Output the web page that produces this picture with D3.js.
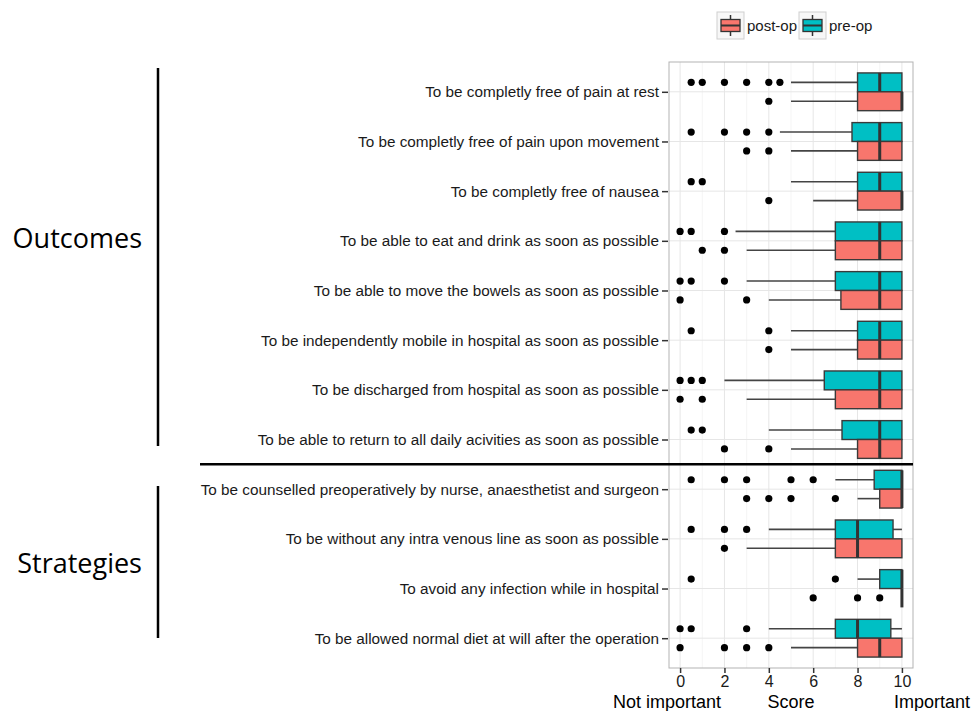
<!DOCTYPE html>
<html>
<head>
<meta charset="utf-8">
<script src="https://cdn.jsdelivr.net/npm/d3@7"></script>
<style>
    body { margin: 0; background: #fff; }
    svg { display: block; }
</style>
</head>
<body>
<div id="chart"></div>
<script>
// Items, top to bottom
const categories = [
    "To be completly free of pain at rest",
    "To be completly free of pain upon movement",
    "To be completly free of nausea",
    "To be able to eat and drink as soon as possible",
    "To be able to move the bowels as soon as possible",
    "To be independently mobile in hospital as soon as possible",
    "To be discharged from hospital as soon as possible",
    "To be able to return to all daily acivities as soon as possible",
    "To be counselled preoperatively by nurse, anaesthetist and surgeon",
    "To be without any intra venous line as soon as possible",
    "To avoid any infection while in hospital",
    "To be allowed normal diet at will after the operation"
];

const groups = ["post-op", "pre-op"];
const xTicks = [0, 2, 4, 6, 8, 10];

// pre-op box stats
const preLow = [5, 4.5, 5, 2.5, 3, 5, 2, 4, 7, 4, 8, 4];
const preQ1 = [8, 7.75, 8, 7, 7, 8, 6.5, 7.3, 8.75, 7, 9, 7];
const preMedian = [9, 9, 9, 9, 9, 9, 9, 9, 10, 8, 10, 8];
const preQ3 = [10, 10, 10, 10, 10, 10, 10, 10, 10, 9.6, 10, 9.5];
const preHigh = [10, 10, 10, 10, 10, 10, 10, 10, 10, 10, 10, 10];
const preOutliers = [
    [0.5, 1, 2, 3, 4, 4.5], [0.5, 2, 3, 4], [0.5, 1], [0, 0.5, 2],
    [0, 0.5, 2], [0.5, 4], [0, 0.5, 1], [0.5, 1],
    [0.5, 2, 3, 5, 6], [0.5, 2, 3], [0.5, 7], [0, 0.5, 3]
];

// post-op box stats
const postLow = [5, 5, 6, 3, 4, 5, 3, 5, 8, 3, 10, 5];
const postQ1 = [8, 8, 8, 7, 7.25, 8, 7, 8, 9, 7, 10, 8];
const postMedian = [10, 9, 10, 9, 9, 9, 9, 9, 10, 8, 10, 9];
const postQ3 = [10, 10, 10, 10, 10, 10, 10, 10, 10, 10, 10, 10];
const postHigh = [10, 10, 10, 10, 10, 10, 10, 10, 10, 10, 10, 10];
const postOutliers = [
    [4], [3, 4], [4], [1, 2], [0, 3], [4], [0, 1], [2, 4],
    [3, 4, 5, 7], [2], [6, 8, 9], [0, 2, 3, 4]
];

const colors = { "post-op": "#F8766D", "pre-op": "#00BFC4" };

function buildRows() {
    let rows = [];
    categories.forEach((c, i) => {
        rows.push({ cat: c, group: "pre-op", low: preLow[i], q1: preQ1[i], med: preMedian[i], q3: preQ3[i], high: preHigh[i], out: preOutliers[i] });
        rows.push({ cat: c, group: "post-op", low: postLow[i], q1: postQ1[i], med: postMedian[i], q3: postQ3[i], high: postHigh[i], out: postOutliers[i] });
    });
    return rows;
}
const boxData = buildRows();

const width = 972, height = 711;
const panel = { left: 669, right: 913, top: 62, bottom: 668 };
const font = "'Liberation Sans', Arial, sans-serif";

const svg = d3.select("#chart").append("svg")
    .attr("width", width)
    .attr("height", height);

svg.append("rect").attr("width", width).attr("height", height).attr("fill", "#fff");

// Scales
const x = d3.scaleLinear()
    .domain([-0.5, 10.5])
    .range([panel.left, panel.right]);

const y = d3.scalePoint()
    .domain(categories)
    .range([panel.top, panel.bottom])
    .padding(0.6);

const boxH = y.step() * 0.38;
// pre-op sits above the row line, post-op below
const offset = g => g === "pre-op" ? -boxH : 0;

// Grid
const grid = svg.append("g").attr("class", "grid");
grid.selectAll(".minor")
    .data(d3.range(1, 10, 2))
    .enter().append("line")
    .attr("x1", d => x(d)).attr("x2", d => x(d))
    .attr("y1", panel.top).attr("y2", panel.bottom)
    .attr("stroke", "#f3f3f3").attr("stroke-width", 0.8);
grid.selectAll(".major")
    .data(xTicks)
    .enter().append("line")
    .attr("x1", d => x(d)).attr("x2", d => x(d))
    .attr("y1", panel.top).attr("y2", panel.bottom)
    .attr("stroke", "#e6e6e6").attr("stroke-width", 1);
grid.selectAll(".hline")
    .data(categories)
    .enter().append("line")
    .attr("x1", panel.left).attr("x2", panel.right)
    .attr("y1", d => y(d)).attr("y2", d => y(d))
    .attr("stroke", "#e6e6e6").attr("stroke-width", 1);

// Boxes
const box = svg.selectAll(".box")
    .data(boxData)
    .enter().append("g")
    .attr("class", "box")
    .attr("transform", d => "translate(0," + (y(d.cat) + offset(d.group)) + ")");

// whiskers
box.append("line")
    .attr("x1", d => x(d.low)).attr("x2", d => x(d.q1))
    .attr("y1", boxH / 2).attr("y2", boxH / 2)
    .attr("stroke", "#444").attr("stroke-width", 1.6);
box.append("line")
    .attr("x1", d => x(d.q3)).attr("x2", d => x(d.high))
    .attr("y1", boxH / 2).attr("y2", boxH / 2)
    .attr("stroke", "#444").attr("stroke-width", 1.6);

box.append("rect")
    .attr("x", d => x(d.q1))
    .attr("width", d => x(d.q3) - x(d.q1))
    .attr("y", 0)
    .attr("height", boxH)
    .attr("fill", d => colors[d.group])
    .attr("stroke", "#3a3a3a")
    .attr("stroke-width", 1.4);

box.append("line")
    .attr("x1", d => x(d.med)).attr("x2", d => x(d.med))
    .attr("y1", 0).attr("y2", boxH)
    .attr("stroke", "#333").attr("stroke-width", 3);

// outliers
box.selectAll(".out")
    .data(d => d.out)
    .enter().append("circle")
    .attr("cx", d => x(d))
    .attr("cy", boxH / 2)
    .attr("r", 3.6)
    .attr("fill", "#000");

// Panel border
svg.append("rect")
    .attr("x", panel.left).attr("y", panel.top)
    .attr("width", panel.right - panel.left)
    .attr("height", panel.bottom - panel.top)
    .attr("fill", "none")
    .attr("stroke", "#b3b3b3")
    .attr("stroke-width", 1);

// Axes
const yAxis = d3.axisLeft(y).tickSize(6).tickPadding(3);
const yG = svg.append("g")
    .attr("transform", "translate(" + (panel.left - 1) + ",0)")
    .call(yAxis);
yG.select(".domain").remove();
yG.selectAll(".tick line").attr("stroke", "#333").attr("stroke-width", 1.5);
yG.selectAll(".tick text")
    .style("font-family", font)
    .style("font-size", "15.3px")
    .attr("fill", "#1a1a1a");

const xAxis = d3.axisBottom(x).tickValues(xTicks).tickSize(5).tickPadding(3);
const xG = svg.append("g")
    .attr("transform", "translate(0," + panel.bottom + ")")
    .call(xAxis);
xG.select(".domain").remove();
xG.selectAll(".tick line").attr("stroke", "#333").attr("stroke-width", 1.5);
xG.selectAll(".tick text")
    .style("font-family", font)
    .style("font-size", "16px")
    .attr("fill", "#1a1a1a");

// X axis captions
const capStyle = s => s.style("font-family", font)
    .style("font-size", "18px").attr("fill", "#000");
svg.append("text").attr("x", 667).attr("y", 708).attr("text-anchor", "middle").text("Not important").call(capStyle);
svg.append("text").attr("x", 791).attr("y", 708).attr("text-anchor", "middle").text("Score").call(capStyle);
svg.append("text").attr("x", 932).attr("y", 708).attr("text-anchor", "middle").text("Important").call(capStyle);

// Group brackets and separator
const sepY = (y(categories[7]) + y(categories[8])) / 2;
svg.append("line")
    .attr("x1", 200).attr("x2", panel.right)
    .attr("y1", sepY).attr("y2", sepY)
    .attr("stroke", "#000").attr("stroke-width", 2.5);

svg.append("line")
    .attr("x1", 158).attr("x2", 158)
    .attr("y1", 68).attr("y2", 446)
    .attr("stroke", "#000").attr("stroke-width", 2.5);
svg.append("line")
    .attr("x1", 158).attr("x2", 158)
    .attr("y1", 486).attr("y2", 638)
    .attr("stroke", "#000").attr("stroke-width", 2.5);

const groupStyle = s => s.style("font-family", "'Open Sans', sans-serif")
    .style("font-size", "27px").attr("fill", "#000").attr("text-anchor", "end");
svg.append("text").attr("x", 142).attr("y", 248).text("Outcomes").call(groupStyle);
svg.append("text").attr("x", 142).attr("y", 573).text("Strategies").call(groupStyle);

// Legend
const legend = svg.append("g").attr("transform", "translate(717,12)");
const keySize = 27;
const legendItems = legend.selectAll(".legend-item")
    .data(groups)
    .enter().append("g")
    .attr("class", "legend-item")
    .attr("transform", (d, i) => "translate(" + (i * 82) + ",0)");

legendItems.append("rect")
    .attr("width", keySize).attr("height", keySize)
    .attr("fill", "#f7f7f7").attr("stroke", "#cfcfcf").attr("stroke-width", 1);
legendItems.append("line")
    .attr("x1", keySize / 2).attr("x2", keySize / 2)
    .attr("y1", 3).attr("y2", keySize - 3)
    .attr("stroke", "#333").attr("stroke-width", 1.5);
legendItems.append("rect")
    .attr("x", 4).attr("y", 7.5)
    .attr("width", keySize - 8).attr("height", 12)
    .attr("fill", d => colors[d]).attr("stroke", "#333").attr("stroke-width", 1.3);
legendItems.append("line")
    .attr("x1", 4).attr("x2", keySize - 4)
    .attr("y1", 13.5).attr("y2", 13.5)
    .attr("stroke", "#333").attr("stroke-width", 2);
legendItems.append("text")
    .attr("x", keySize + 3)
    .attr("y", keySize / 2 + 5)
    .style("font-family", font)
    .style("font-size", "15px")
    .attr("fill", "#1a1a1a")
    .text(d => d);
</script>
</body>
</html>
